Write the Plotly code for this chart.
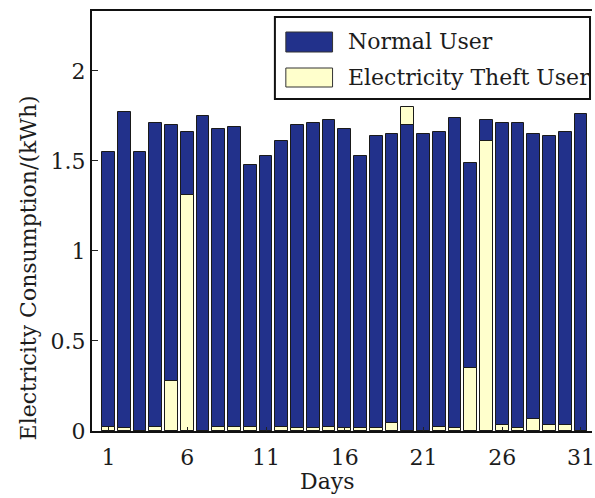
import plotly.graph_objects as go

# Daily consumption over one month, normal vs. electricity-theft user
days = list(range(1, 32))
normal_user = [1.55, 1.77, 1.55, 1.71, 1.70, 1.66, 1.75, 1.68, 1.69, 1.48,
               1.53, 1.61, 1.70, 1.71, 1.73, 1.68, 1.53, 1.64, 1.65, 1.70,
               1.65, 1.66, 1.74, 1.49, 1.73, 1.71, 1.71, 1.65, 1.64, 1.66, 1.76]
theft_user = [0.02, 0.015, 0.0, 0.025, 0.28, 1.31, 0.0, 0.025, 0.025, 0.02,
              0.0, 0.025, 0.015, 0.015, 0.025, 0.015, 0.015, 0.015, 0.045, 1.80,
              0.0, 0.02, 0.015, 0.35, 1.61, 0.035, 0.015, 0.065, 0.035, 0.035, 0.0]
x_ticks = [1, 6, 11, 16, 21, 26, 31]
y_ticks = [0, 0.5, 1, 1.5, 2]
y_tick_text = ["0", "0.5", "1", "1.5", "2"]
series_names = ["Normal User", "Electricity Theft User"]

BLUE = "#22318b"
CREAM = "#ffffcc"
EDGE = "#1a1a1a"
TEXT = "#1c1c1c"
FONT = "DejaVu Serif"

W, H = 595, 498
ML, MR, MT, MB = 92, 0, 11, 67
PW, PH = W - ML - MR, H - MT - MB


def px_x(x):
    return (x - ML) / PW


def px_y(y):
    return (H - MB - y) / PH


# Per day, the taller bar sits behind and the shorter one in front
normal_back = [n if n >= t else None for n, t in zip(normal_user, theft_user)]
theft_back = [t if t > n else None for n, t in zip(normal_user, theft_user)]
normal_front = [n if n < t else None for n, t in zip(normal_user, theft_user)]
theft_front = [t if t <= n else None for n, t in zip(normal_user, theft_user)]

fig = go.Figure()
for vals, color, name in [(normal_back, BLUE, series_names[0]),
                          (theft_back, CREAM, series_names[1]),
                          (normal_front, BLUE, series_names[0]),
                          (theft_front, CREAM, series_names[1])]:
    fig.add_trace(go.Bar(x=days, y=vals, width=0.8, name=name, showlegend=False,
                         marker=dict(color=color, line=dict(color=EDGE, width=1))))

# Legend box drawn with shapes
shapes = [dict(type="rect", xref="paper", yref="paper",
               x0=px_x(276), x1=px_x(593), y0=px_y(99), y1=px_y(17),
               line=dict(color="#111111", width=2), fillcolor="white", layer="above")]
annotations = []
for (y0, y1), color, name in [((32, 52), BLUE, series_names[0]),
                              ((68, 87), CREAM, series_names[1])]:
    shapes.append(dict(type="rect", xref="paper", yref="paper",
                       x0=px_x(287), x1=px_x(334), y0=px_y(y1), y1=px_y(y0),
                       line=dict(color="#333333", width=1), fillcolor=color, layer="above"))
    annotations.append(dict(text=name, xref="paper", yref="paper",
                            x=px_x(348), y=px_y((y0 + y1) / 2), xanchor="left",
                            yanchor="middle", showarrow=False,
                            font=dict(family=FONT, size=22, color=TEXT)))

annotations.append(dict(text="Electricity Consumption/(kWh)", xref="paper", yref="paper",
                        x=px_x(28), y=px_y(268), textangle=-90, xanchor="center",
                        yanchor="middle", showarrow=False,
                        font=dict(family=FONT, size=22, color=TEXT)))
annotations.append(dict(text="Days", xref="paper", yref="paper",
                        x=px_x(328), y=px_y(481), xanchor="center", yanchor="middle",
                        showarrow=False, font=dict(family=FONT, size=22, color=TEXT)))

fig.update_layout(
    width=W, height=H,
    margin=dict(l=ML, r=MR, t=MT, b=MB, pad=0),
    barmode="overlay", bargap=0,
    plot_bgcolor="white", paper_bgcolor="white",
    font=dict(family=FONT, size=22, color=TEXT),
    shapes=shapes, annotations=annotations,
    xaxis=dict(range=[-0.05, 31.7], tickvals=x_ticks, ticks="inside", ticklen=4,
               tickcolor="#222222", showline=True, linecolor="#111111", linewidth=2,
               mirror=True, showgrid=False, zeroline=False, ticklabeloverflow="allow",
               tickfont=dict(family=FONT, size=22, color=TEXT), ticklabelstandoff=6),
    yaxis=dict(range=[0, 2.333], tickvals=y_ticks, ticktext=y_tick_text,
               ticks="inside", ticklen=6, tickcolor="#222222", showline=True,
               linecolor="#111111", linewidth=2, mirror=False, showgrid=False,
               zeroline=False, tickfont=dict(family=FONT, size=22, color=TEXT)),
)

fig.write_html("out.html")
